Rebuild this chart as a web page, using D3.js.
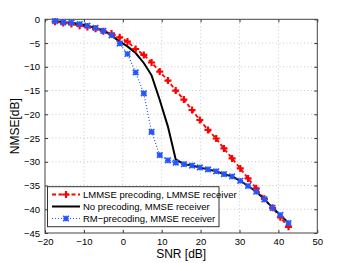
<!DOCTYPE html>
<html lang="en">
<head>
  <meta charset="UTF-8">
  <title>NMSE vs SNR</title>
  <script src="https://d3js.org/d3.v7.min.js"></script>
  <style>
    body { margin: 0; background: #fff; }
    svg text { font-family: "Liberation Sans", Arial, sans-serif; fill: #000; }
  </style>
</head>
<body>
<svg id="chart"></svg>
<script>
// SNR sample points (dB), shared by all three curves
const snr = [-17.4, -15.3, -13.2, -11.1, -9.1, -7.0, -5.0, -2.9, -0.8, 1.2,
             3.3, 5.4, 7.4, 9.5, 11.6, 13.6, 15.7, 17.8, 19.8, 21.9,
             24.0, 26.0, 28.1, 30.2, 32.2, 34.3, 36.4, 38.5, 40.5, 42.6];

const lmmse = [-0.5, -0.8, -1.0, -1.35, -1.6, -2.0, -2.5, -3.0, -3.8, -4.7,
               -6.25, -7.5, -9.1, -11.0, -12.9, -15.0, -16.9, -19.1, -21.2, -23.3,
               -25.1, -27.2, -29.3, -31.4, -33.5, -35.6, -37.8, -39.7, -41.7, -43.7];

const noPrec = [-0.36, -0.6, -0.75, -1.0, -1.35, -1.8, -2.4, -3.4, -4.7, -5.7,
                -7.1, -9.2, -11.8, -17.0, -22.6, -29.5, -30.5, -30.8, -31.2, -31.6,
                -32.0, -32.6, -33.1, -34.0, -35.1, -36.3, -37.9, -39.7, -41.2, -42.9];

const rmPrec = [-0.36, -0.63, -0.72, -1.0, -1.35, -1.83, -2.46, -3.37, -5.1, -7.3,
                -11.2, -15.6, -23.7, -28.6, -29.7, -30.2, -30.5, -30.8, -31.2, -31.6,
                -32.0, -32.6, -33.1, -34.0, -35.1, -36.3, -37.9, -39.7, -41.2, -42.9];

const xTicks = [-20, -10, 0, 10, 20, 30, 40, 50];
const yTicks = [0, -5, -10, -15, -20, -25, -30, -35, -40, -45];
const legendLabels = ["LMMSE precoding, LMMSE receiver", "No precoding, MMSE receiver", "RM\u2212precoding, MMSE receiver"];

const width = 350, height = 263;
const svg = d3.select('#chart').attr('width', width).attr('height', height);

const x = d3.scaleLinear().domain([-20, 50]).range([45, 317.3]);
const y = d3.scaleLinear().domain([-45, 0]).range([233, 19.3]);

const fmt = d => d < 0 ? '\u2212' + Math.abs(d) : String(d);

// dotted grid
svg.append('g').selectAll('line').data(xTicks.slice(1, -1)).join('line')
  .attr('x1', d => x(d)).attr('x2', d => x(d)).attr('y1', y(0)).attr('y2', y(-45))
  .attr('stroke', '#bdbdbd').attr('stroke-width', 0.8).attr('stroke-dasharray', '1,2.5');
svg.append('g').selectAll('line').data(yTicks.slice(1, -1)).join('line')
  .attr('x1', x(-20)).attr('x2', x(50)).attr('y1', d => y(d)).attr('y2', d => y(d))
  .attr('stroke', '#bdbdbd').attr('stroke-width', 0.8).attr('stroke-dasharray', '1,2.5');

// axes with inward ticks, mirrored on top and right
const tk = 3;
svg.append('g').attr('transform', `translate(0,${y(-45)})`)
  .call(d3.axisBottom(x).tickValues(xTicks).tickSize(-tk).tickFormat(fmt).tickPadding(5))
  .call(g => g.select('.domain').remove());
svg.append('g').attr('transform', `translate(0,${y(0)})`)
  .call(d3.axisTop(x).tickValues(xTicks).tickSize(-tk).tickFormat(''))
  .call(g => g.select('.domain').remove());
svg.append('g').attr('transform', `translate(${x(-20)},0)`)
  .call(d3.axisLeft(y).tickValues(yTicks).tickSize(-tk).tickFormat(fmt).tickPadding(5))
  .call(g => g.select('.domain').remove());
svg.append('g').attr('transform', `translate(${x(50)},0)`)
  .call(d3.axisRight(y).tickValues(yTicks).tickSize(-tk).tickFormat(''))
  .call(g => g.select('.domain').remove());
svg.selectAll('.tick line').attr('stroke', '#333');
svg.selectAll('.tick text').attr('font-size', '9.5px').attr('fill', '#000')
  .attr('font-family', '"Liberation Sans", Arial, sans-serif');

svg.append('rect')
  .attr('x', x(-20)).attr('y', y(0))
  .attr('width', x(50) - x(-20)).attr('height', y(-45) - y(0))
  .attr('fill', 'none').attr('stroke', '#444').attr('stroke-width', 1);

// curves
const line = vals => d3.line().x((d, i) => x(snr[i])).y(d => y(d))(vals);
const red = '#ff0000', blue = '#2455ff';

svg.append('path').attr('d', line(lmmse)).attr('fill', 'none')
  .attr('stroke', red).attr('stroke-width', 1.8).attr('stroke-dasharray', '4,2.5');
svg.append('path').attr('d', line(noPrec)).attr('fill', 'none')
  .attr('stroke', '#000').attr('stroke-width', 2);
svg.append('path').attr('d', line(rmPrec)).attr('fill', 'none')
  .attr('stroke', blue).attr('stroke-width', 1.2).attr('stroke-dasharray', '1,2');

function plusMark(g, cx, cy) {
  g.append('path').attr('d', `M${cx - 3.5},${cy}H${cx + 3.5}M${cx},${cy - 3.5}V${cy + 3.5}`)
    .attr('stroke', red).attr('stroke-width', 2.2).attr('fill', 'none');
}
function starMark(g, cx, cy) {
  const r = 2.8;
  g.append('path')
    .attr('d', `M${cx - r},${cy - r}L${cx + r},${cy + r}M${cx - r},${cy + r}L${cx + r},${cy - r}M${cx - r},${cy}H${cx + r}M${cx},${cy - r}V${cy + r}`)
    .attr('stroke', blue).attr('stroke-width', 1.6).attr('fill', 'none');
}

const mk = svg.append('g');
lmmse.forEach((v, i) => plusMark(mk, x(snr[i]), y(v)));
rmPrec.forEach((v, i) => starMark(mk, x(snr[i]), y(v)));

// axis labels
svg.append('text').attr('x', (x(-20) + x(50)) / 2).attr('y', 258)
  .attr('text-anchor', 'middle').attr('font-size', '12px').text('SNR [dB]');
svg.append('text').attr('transform', `translate(19,${(y(0) + y(-45)) / 2}) rotate(-90)`)
  .attr('text-anchor', 'middle').attr('font-size', '12px').text('NMSE[dB]');

// legend
const lg = svg.append('g');
lg.append('rect').attr('x', 47.5).attr('y', 186.7).attr('width', 171.5).attr('height', 40)
  .attr('fill', '#fff').attr('stroke', '#333').attr('stroke-width', 1);
const rows = [194.5, 206.5, 218.5];
lg.append('line').attr('x1', 52).attr('x2', 80).attr('y1', rows[0]).attr('y2', rows[0])
  .attr('stroke', red).attr('stroke-width', 1.8).attr('stroke-dasharray', '4,2.5');
plusMark(lg, 66, rows[0]);
lg.append('line').attr('x1', 52).attr('x2', 80).attr('y1', rows[1]).attr('y2', rows[1])
  .attr('stroke', '#000').attr('stroke-width', 2);
lg.append('line').attr('x1', 52).attr('x2', 80).attr('y1', rows[2]).attr('y2', rows[2])
  .attr('stroke', blue).attr('stroke-width', 1.2).attr('stroke-dasharray', '1,2');
starMark(lg, 66, rows[2]);
lg.selectAll('text.lab').data(legendLabels).join('text').attr('class', 'lab')
  .attr('x', 83).attr('y', (d, i) => rows[i]).attr('dy', '0.35em')
  .attr('font-size', '9.5px').text(d => d);
</script>
</body>
</html>
